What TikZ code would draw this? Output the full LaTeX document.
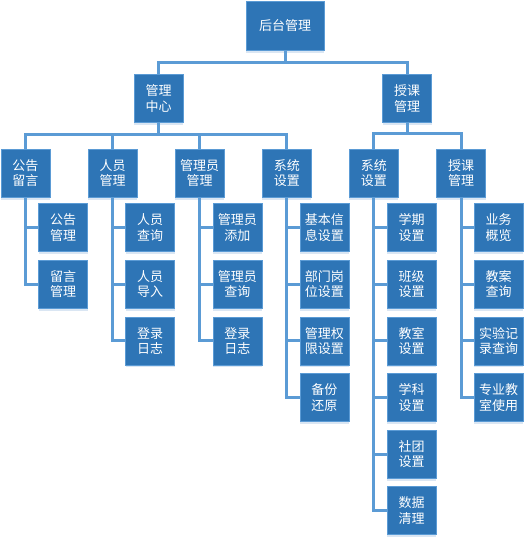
\documentclass[tikz,border=0pt]{standalone}
\usepackage{fontspec}
\setmainfont{Noto Sans CJK SC}
\usepackage{tikz}
\usetikzlibrary{positioning,calc,shadows}
\definecolor{boxblue}{HTML}{2E75B6}
\definecolor{edgeblue}{HTML}{5B9BD5}
\definecolor{shadeblue}{HTML}{DAE6F3}
\tikzstyle{box} = [rectangle, draw=edgeblue, line width=0.6pt, fill=boxblue, text=white, minimum width=49pt, minimum height=48pt, inner sep=1pt, align=center, font=\fontsize{13}{15.5}\selectfont, drop shadow={shadow xshift=0pt, shadow yshift=-2.5pt, fill=shadeblue, opacity=1}]
\tikzstyle{rootbox} = [box, minimum width=78pt, minimum height=49pt]
\tikzstyle{link} = [draw=edgeblue, line width=3pt]

\begin{document}
\begin{tikzpicture}[x=1pt, y=-1pt, node distance=8pt]
        \useasboundingbox (0,0) rectangle (524,538);
        % Nodes
        \node [rootbox] (root) at (285,25.5) {后台管理};
        \node [box] (center) at (158.5,98.5) {管理\\中心};
        \node [box] (teach) at (407,98.5) {授课\\管理};

        \node [box] (notice) at (25.5,173) {公告\\留言};
        \node [box, right=37.5pt of notice] (staff) {人员\\管理};
        \node [box, right=37.5pt of staff] (admin) {管理员\\管理};
        \node [box, right=37.5pt of admin] (sys) {系统\\设置};
        \node [box, right=37.5pt of sys] (tsys) {系统\\设置};
        \node [box, right=37.5pt of tsys] (tmgr) {授课\\管理};

        \node [box, below right=6pt and -12pt of notice] (notice1) {公告\\管理};
        \node [box, below=of notice1] (notice2) {留言\\管理};

        \node [box, below right=6pt and -12pt of staff] (staff1) {人员\\查询};
        \node [box, below=of staff1] (staff2) {人员\\导入};
        \node [box, below=of staff2] (staff3) {登录\\日志};

        \node [box, below right=6pt and -12pt of admin] (admin1) {管理员\\添加};
        \node [box, below=of admin1] (admin2) {管理员\\查询};
        \node [box, below=of admin2] (admin3) {登录\\日志};

        \node [box, below right=6pt and -12pt of sys] (sys1) {基本信\\息设置};
        \node [box, below=of sys1] (sys2) {部门岗\\位设置};
        \node [box, below=of sys2] (sys3) {管理权\\限设置};
        \node [box, below=of sys3] (sys4) {备份\\还原};

        \node [box, below right=6pt and -12pt of tsys] (tsys1) {学期\\设置};
        \node [box, below=of tsys1] (tsys2) {班级\\设置};
        \node [box, below=of tsys2] (tsys3) {教室\\设置};
        \node [box, below=of tsys3] (tsys4) {学科\\设置};
        \node [box, below=of tsys4] (tsys5) {社团\\设置};
        \node [box, below=of tsys5] (tsys6) {数据\\清理};

        \node [box, below right=6pt and -12pt of tmgr] (tmgr1) {业务\\概览};
        \node [box, below=of tmgr1] (tmgr2) {教案\\查询};
        \node [box, below=of tmgr2] (tmgr3) {实验记\\录查询};
        \node [box, below=of tmgr3] (tmgr4) {专业教\\室使用};

        % Paths
        \foreach \kid in {center, teach}
            \path [link] (root.south) -- ++(0,12) -| (\kid.north);
        \foreach \kid in {notice, staff, admin, sys}
            \path [link] (center.south) -- ++(0,11.5) -| (\kid.north);
        \foreach \kid in {tsys, tmgr}
            \path [link] (teach.south) -- ++(0,11) -| (\kid.north);

        % Leaves
        \foreach \kid in {notice1, notice2}
            \path [link] (notice.south) |- (\kid.west);
        \foreach \kid in {staff1, staff2, staff3}
            \path [link] (staff.south) |- (\kid.west);
        \foreach \kid in {admin1, admin2, admin3}
            \path [link] (admin.south) |- (\kid.west);
        \foreach \kid in {sys1, sys2, sys3, sys4}
            \path [link] (sys.south) |- (\kid.west);
        \foreach \kid in {tsys1, tsys2, tsys3, tsys4, tsys5, tsys6}
            \path [link] (tsys.south) |- (\kid.west);
        \foreach \kid in {tmgr1, tmgr2, tmgr3, tmgr4}
            \path [link] (tmgr.south) |- (\kid.west);
    \end{tikzpicture}
\end{document}
